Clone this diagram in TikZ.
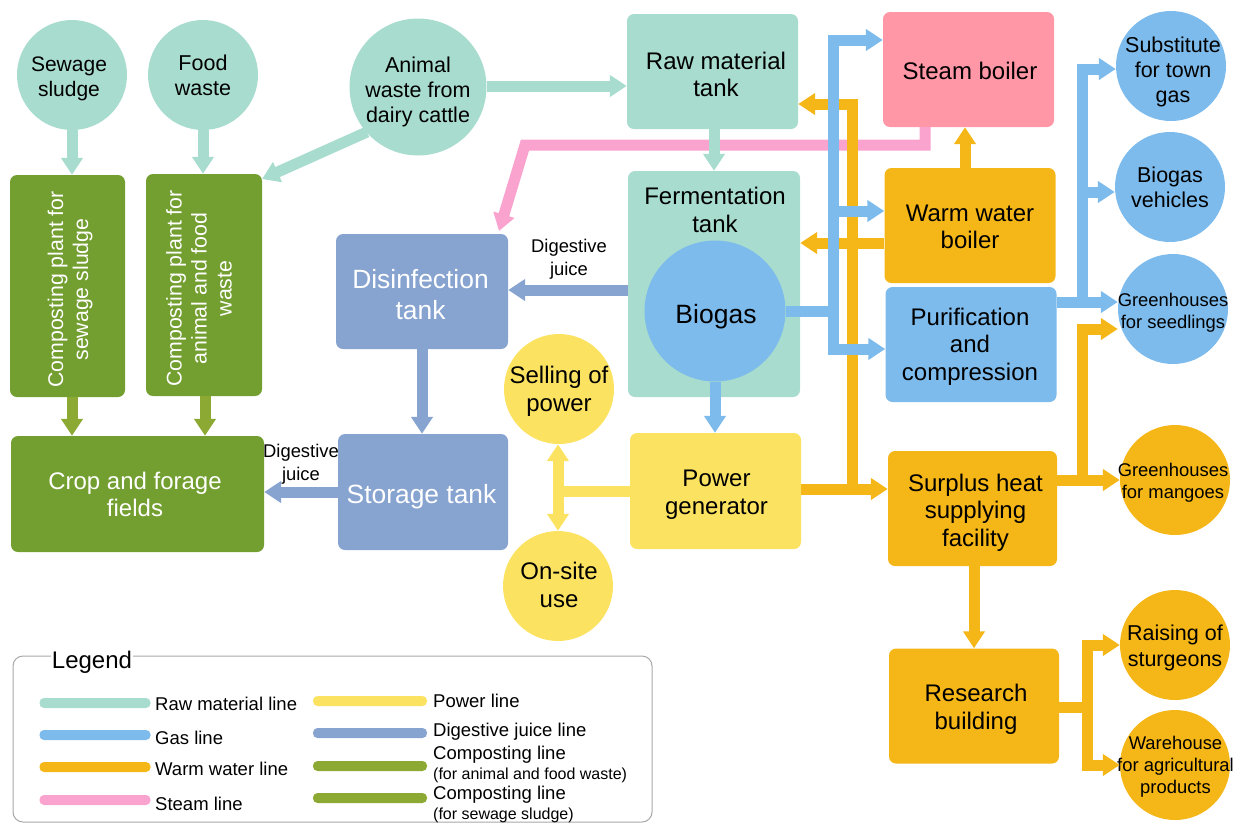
\documentclass[tikz,border=0pt]{standalone}
\usepackage{fontspec}
\setmainfont{Liberation Sans}
\usetikzlibrary{arrows.meta}
\definecolor{rawc}{HTML}{A8DCCF}
\definecolor{gasc}{HTML}{7DBBEC}
\definecolor{warmc}{HTML}{F5B617}
\definecolor{steamc}{HTML}{FF97A6}
\definecolor{pinkc}{HTML}{F9A3CE}
\definecolor{powerc}{HTML}{FCE261}
\definecolor{juicec}{HTML}{87A3D0}
\definecolor{compc}{HTML}{739E30}
\definecolor{compl}{HTML}{8CA933}
\definecolor{framec}{HTML}{A8A8A8}
% text block moved #1 right and #2 down inside its node
\newcommand{\mvtext}[3]{\kern#1pt\raisebox{-#2pt}[\height][\depth]{\begin{tabular}{@{}c@{}}#3\end{tabular}}\kern-#1pt}
\tikzset{
  box/.style={rectangle,rounded corners=7pt,inner sep=0pt,align=center,minimum width=171pt,minimum height=115pt,
    font=\fontsize{24}{27.5}\selectfont},
  disc/.style={circle,inner sep=-30pt,align=center,minimum size=110pt,font=\fontsize{21.5}{25}\selectfont},
  smalldisc/.style={disc,font=\fontsize{18.4}{22}\selectfont},
  conn/.style={line width=11pt,-{Triangle[width=21pt,length=17pt]}},
  plain/.style={line width=11pt},
  dbl/.style={line width=11pt,{Triangle[width=21pt,length=17pt]}-{Triangle[width=21pt,length=17pt]}},
  swatch/.style={rectangle,rounded corners=4.5pt,inner sep=0pt,minimum width=111pt,minimum height=10pt},
  legtext/.style={anchor=west,inner sep=0pt,align=left,font=\fontsize{18.5}{20}\selectfont},
  legsmall/.style={anchor=west,inner sep=0pt,font=\fontsize{16}{17}\selectfont},
  note/.style={inner sep=0pt,align=center,font=\fontsize{18.4}{23}\selectfont},
}
\begin{document}
\begin{tikzpicture}[x=1pt,y=-1pt]
\useasboundingbox (0,0) rectangle (1237,823);
% sources
\node[disc,fill=rawc,font=\fontsize{21}{25}\selectfont] (sewage) at (72,75) {\mvtext{-3}{4}{Sewage\\sludge}};
\node[disc,fill=rawc] (food) at (203,75) {\mvtext{0}{2.5}{Food\\waste}};
\node[disc,fill=rawc,minimum size=137pt] (animal) at (418,87) {\mvtext{0}{5}{Animal\\waste from\\dairy cattle}};
% composting
\node[box,fill=compc,text=white,minimum width=222pt,minimum height=115pt,rotate=90,font=\fontsize{21.3}{25}\selectfont] (compa) at (67.5,286) {\mvtext{-3.5}{3}{Composting plant for\\sewage sludge}};
\node[box,fill=compc,text=white,minimum width=222pt,minimum height=116pt,rotate=90,font=\fontsize{21.3}{25}\selectfont] (compb) at (204,285) {\mvtext{-3.5}{-2.5}{Composting plant for\\animal and food\\waste}};
\node[box,fill=compc,text=white,minimum width=253pt,minimum height=116pt] (crop) at (137.5,494) {\mvtext{-2.5}{3.5}{Crop and forage\\fields}};
% digestive
\node[box,fill=juicec,text=white,minimum width=172pt,font=\fontsize{26.4}{31}\selectfont] (disinf) at (422,291.5) {\mvtext{-1.5}{6}{Disinfection\\tank}};
\node[box,fill=juicec,text=white,minimum width=170pt,minimum height=116pt,font=\fontsize{26.4}{31}\selectfont] (storage) at (423,492) {\mvtext{-1.5}{5}{Storage tank}};
% tanks
\node[box,fill=rawc] (raw) at (712.5,71.5) {\mvtext{3.5}{6}{Raw material\\tank}};
\node[box,fill=rawc,minimum width=172pt,minimum height=226pt] (ferm) at (714,284) {};
\node[inner sep=0pt,align=center,font=\fontsize{24}{28}\selectfont] (fermlabel) at (715,210) {Fermentation\\tank};
\node[disc,fill=gasc,minimum size=141pt,font=\fontsize{26.5}{30}\selectfont] (biogas) at (715,311) {\mvtext{1}{6}{Biogas}};
% power
\node[box,fill=powerc,minimum height=116pt] (power) at (715.5,491) {\mvtext{1}{4}{Power\\generator}};
\node[disc,fill=powerc,font=\fontsize{24}{27.5}\selectfont] (sell) at (559,389) {\mvtext{0}{3}{Selling of\\power}};
\node[disc,fill=powerc,font=\fontsize{24}{27.5}\selectfont] (onsite) at (558,586) {\mvtext{1}{2}{On-site\\use}};
% right column
\node[box,fill=steamc] (steam) at (968.5,69.5) {\mvtext{1.5}{4}{Steam boiler}};
\node[box,fill=warmc] (warm) at (970,225.5) {\mvtext{0}{4}{Warm water\\boiler}};
\node[box,fill=gasc] (purif) at (971,344.5) {\mvtext{-1}{2.5}{Purification\\and\\compression}};
\node[box,fill=warmc,minimum width=169pt] (surplus) at (972.5,508.5) {\mvtext{3}{4.5}{Surplus heat\\supplying\\facility}};
\node[box,fill=warmc,minimum width=170pt] (research) at (974,706) {\mvtext{2}{4}{Research\\building}};
% far right
\node[disc,fill=gasc] (subst) at (1171,66) {\mvtext{2}{6}{Substitute\\for town\\gas}};
\node[disc,fill=gasc] (vehic) at (1170,187) {\mvtext{0}{3}{Biogas\\vehicles}};
\node[smalldisc,fill=gasc] (seed) at (1173,309) {\mvtext{0}{4}{Greenhouses\\for seedlings}};
\node[smalldisc,fill=warmc] (mango) at (1175,480) {\mvtext{-2}{3}{Greenhouses\\for mangoes}};
\node[disc,fill=warmc,font=\fontsize{21.5}{26}\selectfont] (sturg) at (1175,645) {\mvtext{0}{3.5}{Raising of\\sturgeons}};
\node[smalldisc,fill=warmc] (wareh) at (1175,765) {\mvtext{0.5}{2}{Warehouse\\for agricultural\\products}};
% routing points
\coordinate (pinkR) at (925,145);
\coordinate (pinkL) at (525,145);
\coordinate (pinkE) at (499,231);
\coordinate (animalLow) at (367,132);
\coordinate (compbIn) at (262,179);
\coordinate (gasbus) at (833,0);
\coordinate (warmbus) at (852,0);
\coordinate (rightbus) at (1082,0);
\coordinate (resbus) at (1087,0);
\coordinate (powbus) at (558,0);
% steam line
\draw[conn,pinkc,line join=miter] (steam.south -| pinkR) -- (pinkR) -- (pinkL) -- (pinkE);
% raw material line
\draw[conn,rawc] (sewage.south) -- (sewage.south |- compa.east);
\draw[conn,rawc] (food.south) -- (food.south |- compb.east);
\draw[conn,rawc] (animalLow) -- (compbIn);
\draw[conn,rawc] (animal.east |- 0,86) -- (raw.west |- 0,86);
\draw[conn,rawc] (raw.south -| ferm.north) -- (ferm.north);
% composting
\draw[conn,compl] (compa.west -| 72,0) -- (crop.north -| 72,0);
\draw[conn,compl] (compb.west -| 205,0) -- (crop.north -| 205,0);
% digestive
\draw[conn,juicec] (ferm.west |- 0,290) -- (disinf.east |- 0,290);
\draw[conn,juicec] (disinf.south) -- (storage.north -| disinf.south);
\draw[conn,juicec] (storage.west) -- (crop.east |- storage.west);
% power
\draw[plain,powerc] (power.west) -- (power.west -| powbus);
\draw[dbl,powerc] (sell.south -| powbus) -- (onsite.north -| powbus);
% warm water
\draw[conn,warmc] (warmbus |- 0,490) -- (warmbus |- 0,104) -- (raw.east |- 0,104);
\draw[conn,warmc] (power.east |- 0,489) -- (surplus.west |- 0,489);
\draw[conn,warmc] (warm.north -| 965,0) -- (steam.south -| 965,0);
\draw[conn,warmc] (warm.west |- 0,243) -- (ferm.east |- 0,243);
\draw[conn,warmc] (surplus.east |- 0,480) -- (mango.west |- 0,480);
\draw[conn,warmc] (rightbus |- 0,480) -- (rightbus |- 0,329) -- (seed.west |- 0,329);
\draw[conn,warmc] (surplus.south -| research.north) -- (research.north);
\draw[plain,warmc] (research.east |- 0,707) -- (resbus |- 0,707);
\draw[conn,warmc] (resbus |- 0,765) -- (resbus |- 0,645) -- (sturg.west |- 0,645);
\draw[conn,warmc] (resbus |- 0,645) -- (resbus |- 0,765) -- (wareh.west |- 0,765);
% gas
\draw[plain,gasc] (biogas.east) -- (gasbus |- biogas.east);
\draw[conn,gasc] (gasbus |- 0,349) -- (gasbus |- 0,40) -- (steam.west |- 0,40);
\draw[conn,gasc] (gasbus |- 0,40) -- (gasbus |- 0,349) -- (purif.west |- 0,349);
\draw[conn,gasc] (gasbus |- 0,211) -- (warm.west |- 0,211);
\draw[conn,gasc] (biogas.south) -- (power.north -| biogas.south);
\draw[conn,gasc] (purif.east |- 0,302) -- (seed.west |- 0,302);
\draw[conn,gasc] (rightbus |- 0,302) -- (rightbus |- 0,69) -- (subst.west |- 0,69);
\draw[conn,gasc] (rightbus |- 0,192) -- (vehic.west |- 0,192);
% notes
\node[note] (jn1) at (569,259.5) {Digestive\\juice};
\node[note] (jn2) at (301,464) {Digestive\\juice};
% legend
\node[draw=framec,line width=1pt,rectangle,rounded corners=10pt,inner sep=0pt,minimum width=639pt,minimum height=166pt] (legendframe) at (332.5,739) {};
\node[fill=white,inner sep=1pt,font=\fontsize{24}{26}\selectfont] (legendtitle) at (92,662) {Legend};
\node[swatch,fill=rawc] (s1) at (95,703) {};
\node[swatch,fill=gasc] (s2) at (95,735) {};
\node[swatch,fill=warmc] (s3) at (95,767) {};
\node[swatch,fill=pinkc] (s4) at (95,800) {};
\node[swatch,fill=powerc,minimum width=114pt] (s5) at (370,701) {};
\node[swatch,fill=juicec,minimum width=114pt] (s6) at (370,733) {};
\node[swatch,fill=compl,minimum width=114pt] (s7) at (370,766) {};
\node[swatch,fill=compl,minimum width=114pt] (s8) at (370,798) {};
\node[legtext] (t1) at (155,704) {Raw material line};
\node[legtext] (t2) at (155,738) {Gas line};
\node[legtext] (t3) at (155,769) {Warm water line};
\node[legtext] (t4) at (155,804) {Steam line};
\node[legtext] (t5) at (433,701) {Power line};
\node[legtext] (t6) at (433,732) {Digestive juice line};
\node[legtext] (t7) at (433,755) {Composting line};
\node[legsmall] (t7b) at (433,775) {(for animal and food waste)};
\node[legtext] (t8) at (433,795) {Composting line};
\node[legsmall] (t8b) at (433,815) {(for sewage sludge)};
\end{tikzpicture}
\end{document}
